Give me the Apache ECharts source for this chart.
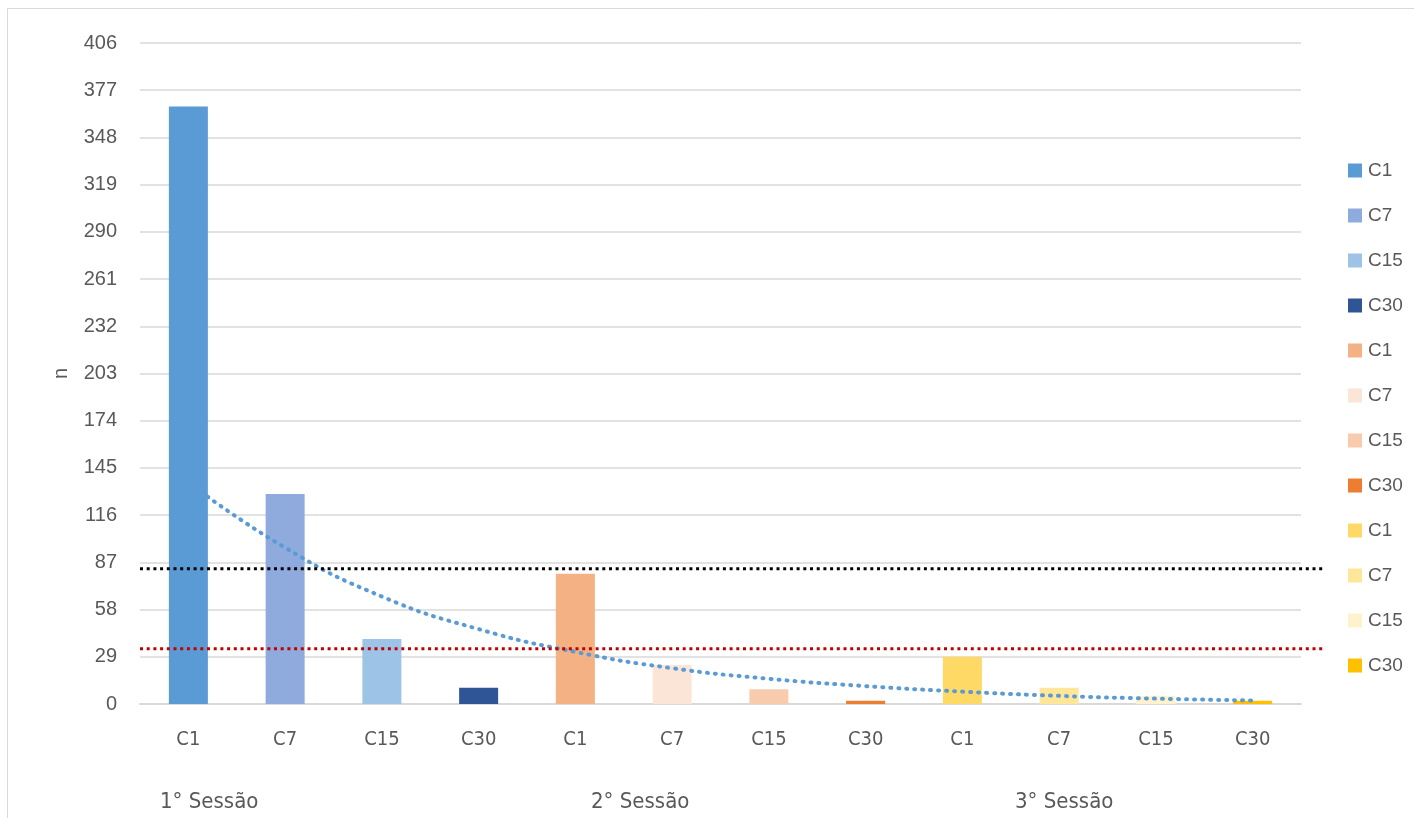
<!DOCTYPE html>
<html>
<head>
<meta charset="utf-8">
<style>
  html, body { margin: 0; padding: 0; background: #ffffff; }
  #chart { width: 1414px; height: 818px; }
</style>
<script src="https://cdn.jsdelivr.net/npm/echarts@6/dist/echarts.min.js"></script>
</head>
<body>
<div id="chart"></div>
<script>
// Category labels along the x axis (four intervals per session)
const categories = ['C1', 'C7', 'C15', 'C30', 'C1', 'C7', 'C15', 'C30', 'C1', 'C7', 'C15', 'C30'];
// Session group labels
const sessions = ['1° Sessão', '2° Sessão', '3° Sessão'];
// Count per bar
const values = [367, 129, 40, 10, 80, 24, 9, 2, 29, 10, 5, 2];
// Bar colours, one per bar
const barColors = ['#5B9BD5', '#8FAADC', '#9DC3E6', '#2F5597',
                   '#F4B183', '#FBE5D6', '#F8CBAD', '#ED7D31',
                   '#FFD966', '#FFE699', '#FFF2CC', '#FFC000'];
// Exponential trend, value at each category
const trend = [136, 96, 66, 46, 32, 22, 15.5, 11, 7.6, 5, 3.3, 2.2];
// Horizontal reference levels
const refLevels = [83, 34];
const refColors = ['#000000', '#C00000'];
// Y axis ticks
const yMin = 0, yMax = 406, yStep = 29;

const textColor = '#595959';
const gridColor = '#d9d9d9';
const narrowFont = '"Liberation Sans Narrow", "DejaVu Sans Condensed", "Liberation Sans", sans-serif';
const mainFont = '"Liberation Sans", "Open Sans", sans-serif';

const chart = echarts.init(document.getElementById('chart'), null, { renderer: 'canvas' });

const seriesName = (i) => sessions[Math.floor(i / 4)] + ' ' + categories[i];

const barSeries = values.map((v, i) => ({
  name: seriesName(i),
  type: 'bar',
  stack: 'all',
  barWidth: 39,
  xAxisIndex: 0,
  yAxisIndex: 0,
  itemStyle: { color: barColors[i] },
  data: categories.map((c, j) => (j === i ? v : null)),
  z: 2
}));

const trendSeries = {
  name: 'trend',
  type: 'line',
  xAxisIndex: 0,
  yAxisIndex: 0,
  data: trend,
  smooth: true,
  symbol: 'none',
  lineStyle: { color: '#5B9BD5', width: 4, type: [1, 7], cap: 'round' },
  z: 5,
  silent: true
};

const refSeries = refLevels.map((lv, k) => ({
  name: 'ref' + k,
  type: 'line',
  xAxisIndex: 1,
  yAxisIndex: 1,
  data: [[0, lv], [1, lv]],
  symbol: 'none',
  lineStyle: { color: refColors[k], width: 3, type: [3, 3.7], cap: 'butt' },
  z: 6,
  silent: true
}));

const option = {
  animation: false,
  backgroundColor: '#ffffff',
  textStyle: { fontFamily: mainFont },
  grid: [
    { left: 140, right: 113, top: 43, bottom: 114 },
    { left: 140, right: 91, top: 43, bottom: 114 }
  ],
  legend: {
    orient: 'vertical',
    left: 1343,
    top: 156,
    itemWidth: 14,
    itemHeight: 14,
    itemGap: 26,
    icon: 'rect',
    data: values.map((v, i) => seriesName(i)),
    formatter: (name) => name.split(' ').pop(),
    textStyle: { color: textColor, fontSize: 19, fontFamily: mainFont, padding: [0, 0, 0, 1] },
    selectedMode: false
  },
  xAxis: [
    {
      type: 'category',
      gridIndex: 0,
      data: categories,
      axisLine: { lineStyle: { color: gridColor, width: 2 } },
      axisTick: { show: false },
      axisLabel: { color: textColor, fontSize: 20, fontFamily: narrowFont, margin: 26, interval: 0 }
    },
    { type: 'value', gridIndex: 1, min: 0, max: 1, show: false }
  ],
  yAxis: [
    {
      type: 'value',
      gridIndex: 0,
      min: yMin,
      max: yMax,
      interval: yStep,
      name: 'n',
      nameLocation: 'middle',
      nameGap: 69,
      nameTextStyle: { color: textColor, fontSize: 20, fontFamily: mainFont },
      axisLine: { show: false },
      axisTick: { show: false },
      axisLabel: { color: textColor, fontSize: 20, fontFamily: mainFont, margin: 23 },
      splitLine: { lineStyle: { color: gridColor, width: 1.5 } }
    },
    { type: 'value', gridIndex: 1, min: yMin, max: yMax, show: false }
  ],
  graphic: [
    {
      type: 'rect',
      shape: { x: 7.5, y: 8.5, width: 1440, height: 840 },
      style: { fill: 'none', stroke: gridColor, lineWidth: 1 },
      silent: true,
      z: -1
    }
  ].concat(sessions.map((s, k) => ({
    type: 'text',
    left: [160, 591, 1015][k],
    top: 791,
    style: { text: s, fill: textColor, fontSize: 22, fontFamily: narrowFont }
  }))),
  series: barSeries.concat([trendSeries]).concat(refSeries)
};

chart.setOption(option);
</script>
</body>
</html>
